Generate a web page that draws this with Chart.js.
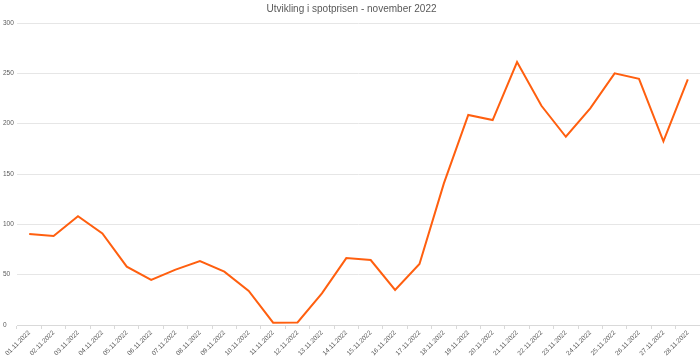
<!DOCTYPE html>
<html>
<head>
<meta charset="utf-8">
<script src="https://cdn.jsdelivr.net/npm/chart.js@4"></script>
<style>
html,body{margin:0;padding:0;background:#fff;overflow:hidden;}
#wrap{width:700px;height:360px;}
</style>
</head>
<body>
<div id="wrap"><canvas id="c" width="700" height="360"></canvas></div>
<script>
const dates = ["01.11.2022","02.11.2022","03.11.2022","04.11.2022","05.11.2022","06.11.2022","07.11.2022","08.11.2022","09.11.2022","10.11.2022","11.11.2022","12.11.2022","13.11.2022","14.11.2022","15.11.2022","16.11.2022","17.11.2022","18.11.2022","19.11.2022","20.11.2022","21.11.2022","22.11.2022","23.11.2022","24.11.2022","25.11.2022","26.11.2022","27.11.2022","28.11.2022"];
const spotprice = [90.4,88.4,108,91,57.9,44.7,55,63.6,53,33.8,2.3,2.6,31.5,66.5,64.5,34.8,60.6,140.7,208.6,203.6,261.2,217.8,187,215.2,250,244.6,182.5,244];
const yTicks = [0,50,100,150,200,250,300];
const titleText = "Utvikling i spotprisen - november 2022";

const fontFam = "'Liberation Sans',Arial,sans-serif";
new Chart(document.getElementById('c'), {
  type: 'line',
  data: {
    labels: dates,
    datasets: [{
      data: spotprice,
      borderColor: '#ff5f0f',
      borderWidth: 2,
      pointRadius: 0,
      tension: 0,
      fill: false
    }]
  },
  options: {
    responsive: false,
    animation: false,
    layout: {padding: {left: 3, right: 0, top: 0, bottom: 0}},
    plugins: {
      legend: {display: false},
      tooltip: {enabled: false},
      title: {
        display: true,
        text: titleText,
        color: '#595959',
        font: {family: fontFam, size: 10, weight: 'normal'},
        padding: {top: 3, bottom: 8}
      }
    },
    scales: {
      x: {
        offset: true,
        grid: {drawOnChartArea: false, drawTicks: true, tickLength: 4, offset: true, color: '#d9d9d9'},
        border: {color: '#d9d9d9'},
        afterFit: (axis) => { axis.height = 35; },
        ticks: {
          color: '#595959',
          font: {family: fontFam, size: 6.5},
          maxRotation: 45, minRotation: 45,
          autoSkip: false,
          padding: 0
        }
      },
      y: {
        min: 0, max: 300,
        afterBuildTicks: (axis) => { axis.ticks = yTicks.map(v => ({value: v})); },
        afterFit: (axis) => { axis.width = 14; },
        grid: {color: '#e6e6e6', drawTicks: false},
        border: {display: false},
        ticks: {
          color: '#595959',
          font: {family: fontFam, size: 6.5},
          crossAlign: 'far',
          padding: 4
        }
      }
    }
  }
});
</script>
</body>
</html>
